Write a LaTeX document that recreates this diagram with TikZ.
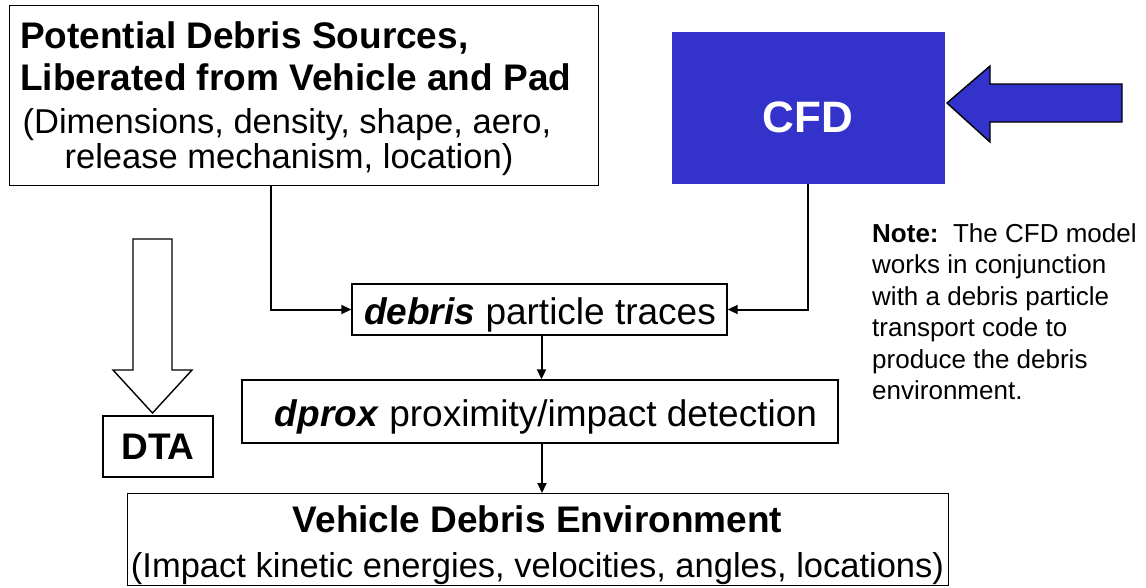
\documentclass[tikz,border=0pt]{standalone}
\usepackage{fontspec}
\setmainfont{Liberation Sans}
\usetikzlibrary{arrows.meta,calc}
\definecolor{cfdblue}{RGB}{51,51,204}
\begin{document}
\begin{tikzpicture}[x=1pt,y=-1pt,
  box/.style={draw=black,line width=1.4pt,inner sep=0pt,anchor=north west},
  txt/.style={inner sep=0pt},
  bigf/.style={font=\fontsize{37}{42}\selectfont},
  midf/.style={font=\fontsize{34.5}{40}\selectfont},
  conn/.style={draw=black,line width=2pt,-{Triangle[length=10pt,width=9pt]}},
  fatarrow/.style={draw=black,line width=1.4pt,line join=miter}
]
\useasboundingbox (0,0) rectangle (1146,587);
% source box
\node[box,minimum width=589pt,minimum height=180pt] (src) at (9,5) {};
\node[txt,anchor=base west,font=\bfseries\fontsize{37}{42}\selectfont] (src1) at (20,48) {Potential Debris Sources,};
\node[txt,anchor=base west,font=\bfseries\fontsize{37}{42}\selectfont] (src2) at (20,90) {Liberated from Vehicle and Pad};
\node[txt,anchor=base,midf] (src3) at (287,133) {(Dimensions, density, shape, aero,};
\node[txt,anchor=base,midf] (src4) at (289,168) {release mechanism, location)};
% CFD
\node[anchor=north west,fill=cfdblue,inner sep=0pt,minimum width=273pt,minimum height=152pt] (cfd) at (672,32) {};
\node[txt,anchor=base,text=white,font=\bfseries\fontsize{44}{48}\selectfont] (cfdt) at (808,132) {CFD};
\draw[fatarrow,fill=cfdblue] (947,103) -- (990,66) -- (990,84) -- (1122,84) -- (1122,122)
  -- (990,122) -- (990,142) -- cycle;
% note
\node[txt,anchor=north west,align=left,font=\fontsize{26}{31.5}\selectfont] (note) at (872,223)
  {\textbf{Note:}\ \ The CFD model\\works in conjunction\\with a debris particle\\transport code to\\produce the debris\\environment.};
% debris
\node[box,anchor=center,minimum width=375pt,minimum height=51pt] (deb) at (539.5,309.5) {};
\node[txt,anchor=base,bigf] (debt) at (540,324) {\textbf{\textit{debris}} particle traces};
% dprox
\node[box,anchor=center,minimum width=596pt,minimum height=63pt] (dprox) at (540,411.5) {};
\node[txt,anchor=base,bigf] (dproxt) at (546,426) {\textbf{\textit{dprox}} proximity/impact detection};
% DTA
\node[box,anchor=center,minimum width=110pt,minimum height=61pt,font=\bfseries\fontsize{37}{42}\selectfont] (dta) at (158,446.5) {DTA};
\draw[line width=1.4pt,fill=white,line join=miter] (133,239) -- (172,239) -- (172,370) -- (192,370)
  -- (152.5,413) -- (113,370) -- (133,370) -- cycle;
% environment
\node[box,minimum width=821pt,minimum height=92pt] (env) at (127,493) {};
\node[txt,anchor=base,font=\bfseries\fontsize{37}{42}\selectfont] (env1) at (537.5,532) {Vehicle Debris Environment};
\node[txt,anchor=base,midf] (env2) at (537.5,577) {(Impact kinetic energies, velocities, angles, locations)};
% connectors
\draw[conn] ([xshift=-33.5pt]src.south) |- (deb.west);
\draw[conn] ([xshift=-1pt]cfd.south) |- (deb.east);
\draw[conn] ([xshift=2pt]deb.south) -- ([xshift=2pt]deb.south |- dprox.north);
\draw[conn] ([xshift=2pt]dprox.south) -- ([xshift=2pt]dprox.south |- env.north);
\end{tikzpicture}
\end{document}
